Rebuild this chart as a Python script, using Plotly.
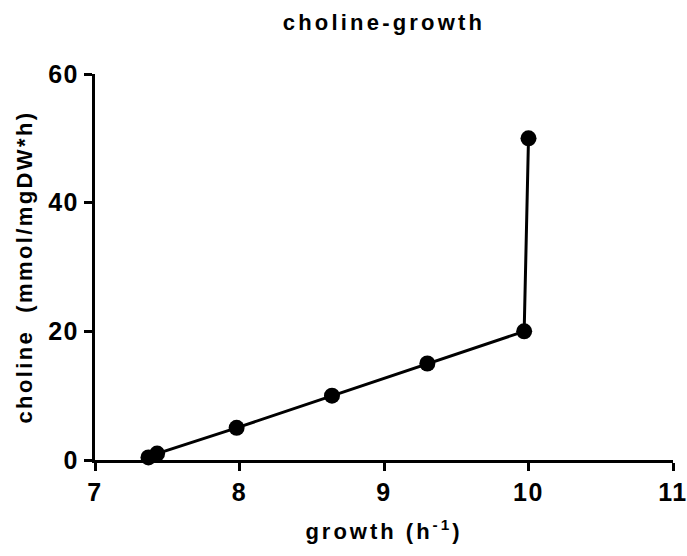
import plotly.graph_objects as go

growth = [7.37, 7.43, 7.98, 8.64, 9.30, 9.97, 10.0]
choline = [0.4, 1.0, 5.0, 10.0, 15.0, 20.0, 50.0]
x_ticks = [7, 8, 9, 10, 11]
y_ticks = [0, 20, 40, 60]

FONT = "Liberation Sans, Arial, sans-serif"


def sp(text, px):
    return f'<span style="letter-spacing:{px}px"><b>{text}</b></span>'


fig = go.Figure(go.Scatter(
    x=growth, y=choline, mode="lines+markers",
    line=dict(color="black", width=3),
    marker=dict(color="black", size=16),
    cliponaxis=False,
))

fig.update_layout(
    width=687, height=556,
    paper_bgcolor="white", plot_bgcolor="white",
    margin=dict(l=95, r=14, t=74, b=96),
    showlegend=False,
    title=dict(text=sp("choline-growth", 3.2), x=0.5, xanchor="center",
               xref="paper", y=1 - 22/556, yanchor="middle",
               font=dict(family=FONT, size=22, color="black")),
    font=dict(family=FONT, color="black"),
)

fig.update_xaxes(
    range=[7, 11], tickvals=x_ticks, ticktext=[sp(v, 1.5) for v in x_ticks],
    showgrid=False, zeroline=False, showline=True, linecolor="black", linewidth=3,
    ticks="outside", ticklen=8, tickwidth=3, tickcolor="black",
    tickfont=dict(family=FONT, size=25, color="black"),
    ticklabeloverflow="allow", automargin=False,
    title=dict(text=sp("growth (h<sup>-1</sup>)", 3), font=dict(family=FONT, size=22, color="black"), standoff=19),
)
fig.update_yaxes(
    range=[0, 60], tickvals=y_ticks, ticktext=[sp(v, 1.5) for v in y_ticks],
    showgrid=False, zeroline=False, showline=True, linecolor="black", linewidth=3,
    ticks="outside", ticklen=8, tickwidth=3, tickcolor="black",
    tickfont=dict(family=FONT, size=25, color="black"),
    ticklabeloverflow="allow", automargin=False,
    title=dict(text=sp("choline  (mmol/mgDW*h)", 2.4), font=dict(family=FONT, size=22, color="black"), standoff=10),
)

fig.write_html("out.html")
